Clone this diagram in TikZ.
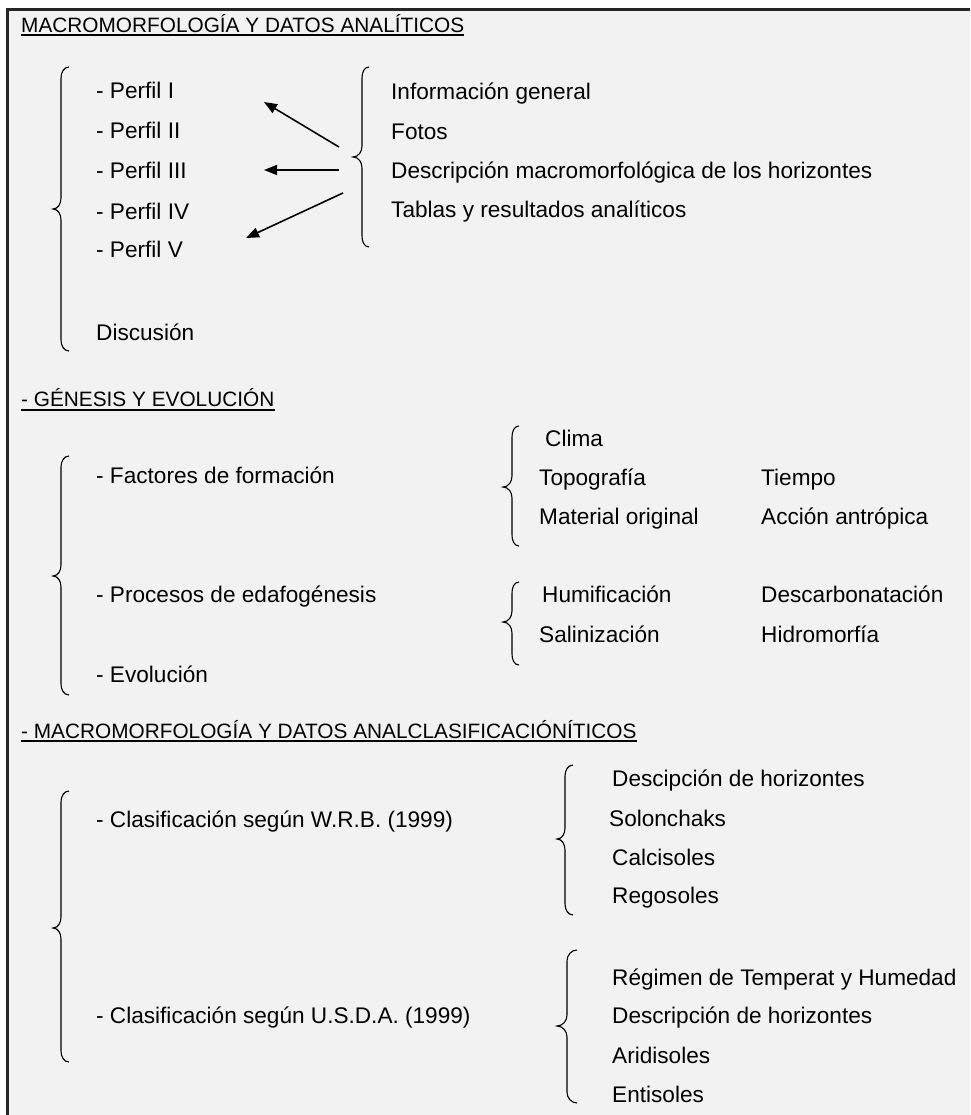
\documentclass[tikz,border=0pt]{standalone}
\usepackage{fontspec}
\setmainfont{Liberation Sans}
\usetikzlibrary{arrows.meta}
\definecolor{bg}{HTML}{F2F2F2}
\newcommand{\mybrace}[6]{% xtip xline xend top tip bottom (pixels, y down)
  \draw[bracestyle] (#3,-#4) to[out=180,in=90] (#2,-#4-11) -- (#2,-#5+11)
    to[out=-90,in=0] (#1,-#5) to[out=0,in=90] (#2,-#5-11) -- (#2,-#6+11)
    to[out=-90,in=180] (#3,-#6);}
\begin{document}
\begin{tikzpicture}[x=1pt,y=1pt,
  txt/.style={anchor=base west, inner sep=0pt, font=\fontsize{22.6}{27}\selectfont},
  ttl/.style={anchor=base west, inner sep=0pt, font=\fontsize{20.8}{25}\selectfont},
  bracestyle/.style={line width=1.1pt, black},
  arr/.style={line width=1.6pt, -{Triangle[length=13pt,width=10pt]}},
  uline/.style={line width=1.7pt}]
\useasboundingbox (0,0) rectangle (970,-1115);
\fill[white] (0,0) rectangle (970,-1115);
\fill[bg] (7,-9) rectangle (970,-1115);
\draw[line width=2.5pt, black!85] (7.5,-1115) -- (7.5,-9.5) -- (970,-9.5);

% ---------- Section 1
\node[ttl] (t1) at (21,-32.5) {MACROMORFOLOGÍA Y DATOS ANALÍTICOS};
\draw[uline] ([yshift=-2.5pt]t1.base west) -- ([yshift=-2.5pt]t1.base east);
\mybrace{53}{61}{69}{67}{209}{351}
\node[txt] (p1) at (96,-99) {- Perfil I};
\node[txt] (p2) at (96,-139) {- Perfil II};
\node[txt] (p3) at (96,-179) {- Perfil III};
\node[txt] (p4) at (96,-219) {- Perfil IV};
\node[txt] (p5) at (96,-258) {- Perfil V};
\node[txt] (disc) at (96,-340) {Discusión};
\mybrace{353}{362}{369}{67}{157}{247}
\node[txt] (i1) at (391,-100) {Información general};
\node[txt] (i2) at (391,-140) {Fotos};
\node[txt] (i3) at (391,-179) {Descripción macromorfológica de los horizontes};
\node[txt] (i4) at (391,-218) {Tablas y resultados analíticos};
\coordinate (a1s) at (339,-147); \coordinate (a1e) at (264,-102);
\coordinate (a2s) at (339,-170); \coordinate (a2e) at (264,-170);
\coordinate (a3s) at (343,-193); \coordinate (a3e) at (246,-238);
\draw[arr] (a1s) -- (a1e);
\draw[arr] (a2s) -- (a2e);
\draw[arr] (a3s) -- (a3e);

% ---------- Section 2
\node[ttl] (t2) at (21,-406.5) {- GÉNESIS Y EVOLUCIÓN};
\draw[uline] ([yshift=-3.5pt]t2.base west) -- ([yshift=-3.5pt]t2.base east);
\mybrace{53}{61}{69}{456}{576}{695}
\node[txt] (f1) at (96,-483) {- Factores de formación};
\node[txt] (f2) at (96,-602) {- Procesos de edafogénesis};
\node[txt] (f3) at (96,-682) {- Evolución};
\mybrace{503}{512}{519}{426}{487}{546}
\node[txt] (c1) at (545,-446) {Clima};
\node[txt] (c2) at (539,-485) {Topografía};
\node[txt] (c3) at (539,-524) {Material original};
\node[txt] (c4) at (761,-485) {Tiempo};
\node[txt] (c5) at (761,-524) {Acción antrópica};
\mybrace{503}{512}{519}{582}{622}{665}
\node[txt] (h1) at (542,-602) {Humificación};
\node[txt] (h2) at (761,-602) {Descarbonatación};
\node[txt] (h3) at (539,-642) {Salinización};
\node[txt] (h4) at (761,-642) {Hidromorfía};

% ---------- Section 3
\node[ttl] (t3) at (21,-738) {- MACROMORFOLOGÍA Y DATOS ANALCLASIFICACIÓNÍTICOS};
\draw[uline] ([yshift=-3pt]t3.base west) -- ([yshift=-3pt]t3.base east);
\mybrace{53}{61}{69}{791}{928}{1062}
\node[txt] (w) at (96,-827) {- Clasificación según W.R.B. (1999)};
\node[txt] (u) at (96,-1023) {- Clasificación según U.S.D.A. (1999)};
\mybrace{557}{565}{573}{765}{839}{915}
\node[txt] (w1) at (612,-786) {Descipción de horizontes};
\node[txt] (w2) at (609,-826) {Solonchaks};
\node[txt] (w3) at (612,-865) {Calcisoles};
\node[txt] (w4) at (612,-903) {Regosoles};
\mybrace{557}{567}{577}{950}{1026}{1103}
\node[txt] (u1) at (612,-985) {Régimen de Temperat y Humedad};
\node[txt] (u2) at (612,-1023) {Descripción de horizontes};
\node[txt] (u3) at (612,-1063) {Aridisoles};
\node[txt] (u4) at (612,-1102) {Entisoles};
\end{tikzpicture}
\end{document}
